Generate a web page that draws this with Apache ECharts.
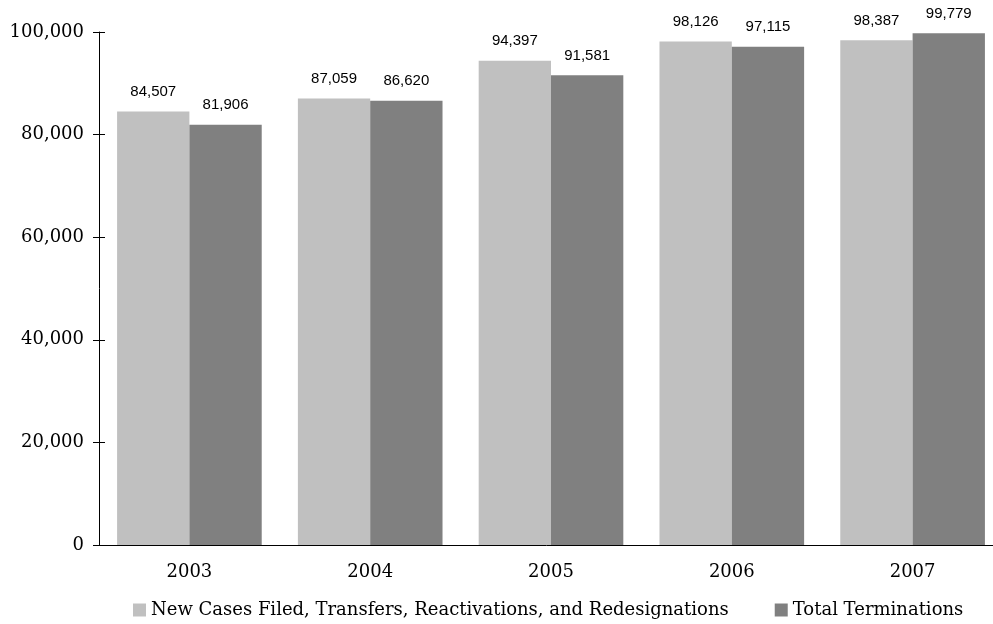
<!DOCTYPE html>
<html>
<head>
<meta charset="utf-8">
<script src="https://cdn.jsdelivr.net/npm/echarts@6/dist/echarts.min.js"></script>
<style>
html,body{margin:0;padding:0;background:#fff;}
#main{width:993px;height:624px;}
</style>
</head>
<body>
<div id="main"></div>
<script>
// 数据
var years = ['2003', '2004', '2005', '2006', '2007'];
var newCases = [84507, 87059, 94397, 98126, 98387];
var terminations = [81906, 86620, 91581, 97115, 99779];
var seriesNames = ['New Cases Filed, Transfers, Reactivations, and Redesignations', 'Total Terminations'];

var serif = 'DejaVu Serif';
var sans = 'Liberation Sans';

function fmt(v){ return v.toLocaleString('en-US'); }

var myChart = echarts.init(document.getElementById('main'));
myChart.setOption({
    animation:false,
    legend:{
        top:596,
        left:128,
        itemWidth:13,
        itemHeight:13,
        itemGap:46,
        icon:'rect',
        textStyle:{fontFamily:serif,fontSize:18,color:'#000'},
        data:seriesNames
    },
    grid:{left:99,right:-10,top:32,bottom:79,outerBoundsMode:'none'},
    xAxis:{
        type:'category',
        data:years,
        axisTick:{show:false},
        axisLine:{lineStyle:{color:'#000',width:1}},
        axisLabel:{fontFamily:serif,fontSize:18,color:'#000',margin:18}
    },
    yAxis:[{
        type:'value',
        min:0,
        max:100000,
        interval:20000,
        splitLine:{show:false},
        axisLine:{show:true,lineStyle:{color:'#000'}},
        axisTick:{show:true,length:6,lineStyle:{color:'#000'}},
        axisLabel:{fontFamily:serif,fontSize:18,color:'#000',margin:15,formatter:fmt}
    },{
        type:'value',
        position:'left',
        min:0,
        max:100000,
        interval:20000,
        splitLine:{show:false},
        axisLine:{show:false},
        axisTick:{show:true,inside:true,length:6,lineStyle:{color:'#000'}},
        axisLabel:{show:false}
    }],
    series:[{
        name:seriesNames[0],
        type:'bar',
        data:newCases,
        barGap:'0%',
        barCategoryGap:'20%',
        itemStyle:{color:'#c0c0c0'},
        label:{show:true,position:'top',distance:12,fontFamily:sans,fontSize:15,color:'#000',formatter:function(p){return fmt(p.value);}}
    },{
        name:seriesNames[1],
        type:'bar',
        data:terminations,
        barGap:'0%',
        barCategoryGap:'20%',
        itemStyle:{color:'#808080'},
        label:{show:true,position:'top',distance:12,fontFamily:sans,fontSize:15,color:'#000',formatter:function(p){return fmt(p.value);}}
    }]
});
</script>
</body>
</html>
